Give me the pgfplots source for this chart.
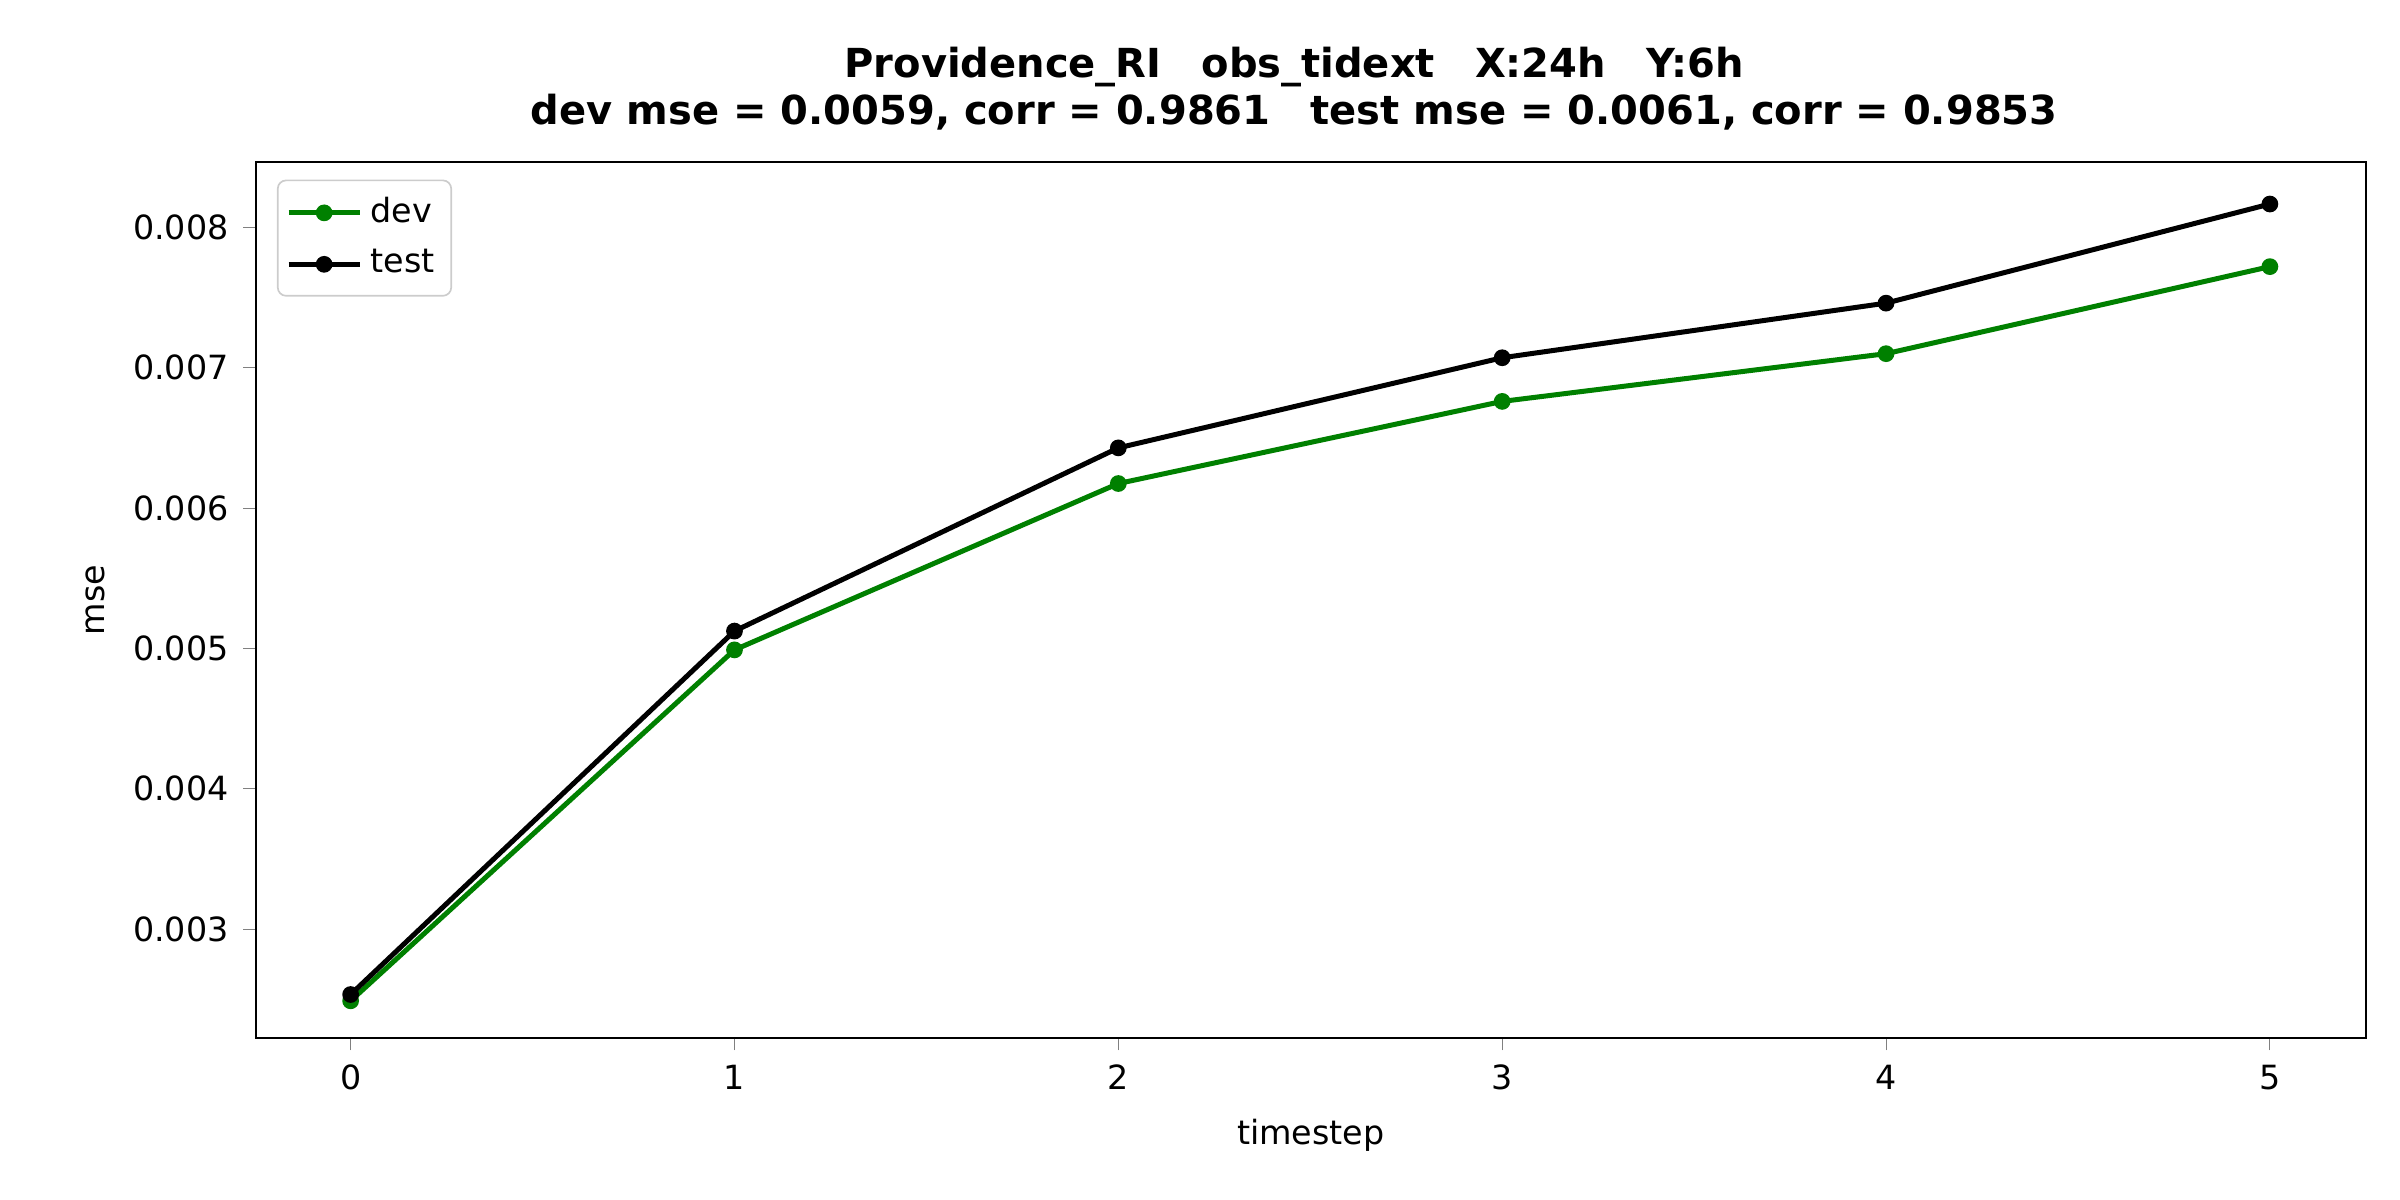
\documentclass[border=0pt]{standalone}
\usepackage{pgfplots}
\pgfplotsset{compat=1.18}
\usepackage{fontspec}
\setmainfont{DejaVu Sans}
\definecolor{mplgreen}{RGB}{0,128,0}
\begin{document}
\begin{tikzpicture}
\useasboundingbox (-61.4pt,-38.9pt) rectangle (514.6pt,249.1pt);
\begin{axis}[
  at={(0,0)}, anchor=south west,
  scale only axis, width=506.4pt, height=210.2pt,
  xmin=-0.247, xmax=5.25, ymin=0.002226, ymax=0.008465,
  xtick={0,1,2,3,4,5},
  ytick={0.003,0.004,0.005,0.006,0.007,0.008},
  scaled y ticks=false,
  yticklabel style={/pgf/number format/.cd,fixed,precision=3,zerofill},
  /pgf/number format/assume math mode=true,
  tick label style={font=\fontsize{8}{10}\selectfont},
  label style={font=\fontsize{8}{10}\selectfont},
  tick align=outside, tick pos=left,
  major tick length=3pt,
  xlabel={timestep}, ylabel={mse},
  title style={font=\bfseries\fontsize{9.6}{11.5}\selectfont, align=center, yshift=-2pt, xshift=-4pt},
  title={Providence\_RI\quad obs\_tidext\quad X:24h\quad Y:6h\\dev mse = 0.0059, corr = 0.9861\quad test mse = 0.0061, corr = 0.9853},
  legend style={at={(0.01,0.98)}, anchor=north west, font=\fontsize{8}{10}\selectfont, draw=black!20, rounded corners=2pt, row sep=1pt, inner sep=2pt},
  legend cell align=left,
]
\addplot[mplgreen, line width=1.2pt, mark=*, mark size=1.4pt] coordinates {(0,0.00249)(1,0.00499)(2,0.006175)(3,0.00676)(4,0.00710)(5,0.00772)};
\addlegendentry{dev}
\addplot[black, line width=1.2pt, mark=*, mark size=1.4pt] coordinates {(0,0.002535)(1,0.005124)(2,0.006429)(3,0.007071)(4,0.00746)(5,0.008166)};
\addlegendentry{test}
\end{axis}
\end{tikzpicture}
\end{document}
